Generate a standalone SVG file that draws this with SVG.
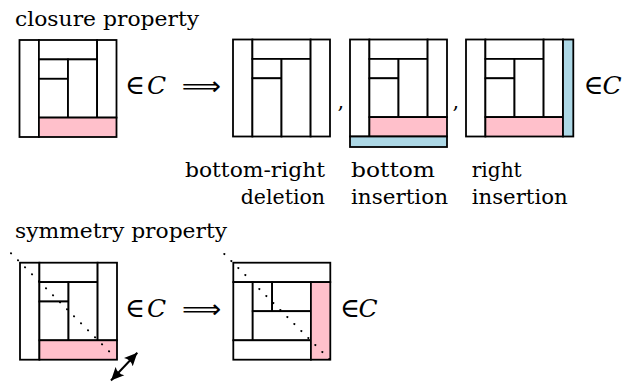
<svg xmlns="http://www.w3.org/2000/svg" width="625" height="383" viewBox="0 0 625 383">
<style>
.c{fill:#fff;stroke:#000;stroke-width:1.8}
.p{fill:#ffc0cb;stroke:#000;stroke-width:1.8}
.b{fill:#add8e6;stroke:#000;stroke-width:1.8}
.t{font-family:"DejaVu Serif","Liberation Serif","Noto Serif","Times New Roman",Times,serif;font-size:21px;fill:#000}
.e{font-family:"DejaVu Serif","DejaVu Sans",serif;font-size:27px;fill:#000}
.m{font-family:"DejaVu Serif","DejaVu Sans",serif}
.cal{font-family:"DejaVu Serif","Liberation Serif",serif;font-style:italic;font-size:25px}
.ar{font-family:"DejaVu Sans",sans-serif;font-size:26px;fill:#000}
.dot{fill:none;stroke:#000;stroke-width:2;stroke-linecap:round;stroke-dasharray:0.1 9.8}
.dbl{fill:none;stroke:#000;stroke-width:2}
</style>
<defs>
<marker id="ah" markerUnits="userSpaceOnUse" markerWidth="15" markerHeight="13" refX="13" refY="6.5" orient="auto-start-reverse">
<path d="M0,0.5 L13,6.5 L0,12.5 Q3.8,6.5 0,0.5 z" fill="#000"/>
</marker>
</defs>

<text class="t" x="15" y="26" textLength="184" lengthAdjust="spacingAndGlyphs">closure property</text>
<text class="t" x="15" y="238" textLength="212" lengthAdjust="spacingAndGlyphs">symmetry property</text>

<g id="sq1">
<rect class="c" x="19.5" y="40" width="19.4" height="97"/>
<rect class="c" x="38.9" y="40" width="58.2" height="19.4"/>
<rect class="c" x="38.9" y="59.4" width="29.1" height="19.4"/>
<rect class="c" x="38.9" y="78.8" width="29.1" height="38.8"/>
<rect class="c" x="68" y="59.4" width="29.1" height="58.2"/>
<rect class="c" x="97.1" y="40" width="19.4" height="77.6"/>
<rect class="p" x="38.9" y="117.6" width="77.6" height="19.4"/>
</g>

<g id="sq2">
<rect class="c" x="233" y="39.5" width="19.4" height="97"/>
<rect class="c" x="252.4" y="39.5" width="58.2" height="19.4"/>
<rect class="c" x="252.4" y="58.9" width="29.1" height="19.4"/>
<rect class="c" x="252.4" y="78.3" width="29.1" height="58.2"/>
<rect class="c" x="281.5" y="58.9" width="29.1" height="77.6"/>
<rect class="c" x="310.6" y="39.5" width="19.4" height="97"/>
</g>

<g id="sq3">
<rect class="c" x="350" y="39.5" width="19.4" height="97"/>
<rect class="c" x="369.4" y="39.5" width="58.2" height="19.4"/>
<rect class="c" x="369.4" y="58.9" width="29.1" height="19.4"/>
<rect class="c" x="369.4" y="78.3" width="29.1" height="38.8"/>
<rect class="c" x="398.5" y="58.9" width="29.1" height="58.2"/>
<rect class="c" x="427.6" y="39.5" width="19.4" height="77.6"/>
<rect class="p" x="369.4" y="117.1" width="77.6" height="19.4"/>
<rect class="b" x="350" y="136.5" width="97" height="10.5"/>
</g>

<g id="sq4">
<rect class="c" x="466" y="39.5" width="19.4" height="97"/>
<rect class="c" x="485.4" y="39.5" width="58.2" height="19.4"/>
<rect class="c" x="485.4" y="58.9" width="29.1" height="19.4"/>
<rect class="c" x="485.4" y="78.3" width="29.1" height="38.8"/>
<rect class="c" x="514.5" y="58.9" width="29.1" height="58.2"/>
<rect class="c" x="543.6" y="39.5" width="19.4" height="77.6"/>
<rect class="p" x="485.4" y="117.1" width="77.6" height="19.4"/>
<rect class="b" x="563" y="39.5" width="10.3" height="97"/>
</g>

<g id="sq5">
<rect class="c" x="20" y="262.7" width="19.4" height="97"/>
<rect class="c" x="39.4" y="262.7" width="58.2" height="19.4"/>
<rect class="c" x="39.4" y="282.1" width="29.1" height="19.4"/>
<rect class="c" x="39.4" y="301.5" width="29.1" height="38.8"/>
<rect class="c" x="68.5" y="282.1" width="29.1" height="58.2"/>
<rect class="c" x="97.6" y="262.7" width="19.4" height="77.6"/>
<rect class="p" x="39.4" y="340.3" width="77.6" height="19.4"/>
</g>

<g id="sq6">
<rect class="c" x="233.3" y="262.7" width="97" height="19.4"/>
<rect class="c" x="233.3" y="282.1" width="19.4" height="58.2"/>
<rect class="c" x="252.7" y="282.1" width="19.4" height="29.1"/>
<rect class="c" x="272.1" y="282.1" width="38.8" height="29.1"/>
<rect class="c" x="252.7" y="311.2" width="58.2" height="29.1"/>
<rect class="c" x="233.3" y="340.3" width="77.6" height="19.4"/>
<rect class="p" x="310.9" y="282.1" width="19.4" height="77.6"/>
</g>

<g id="connectors">
<path class="dot" d="M11,253.3 L115,357.3"/>
<path class="dot" d="M224.3,254 L334,363.7"/>
<path class="dbl" d="M111,380.5 L137.3,352.8" marker-start="url(#ah)" marker-end="url(#ah)"/>
</g>

<g id="labels">
<text class="e" y="94"><tspan class="m" x="125">∈</tspan><tspan class="cal" x="147">C</tspan></text>
<text class="ar" x="181.7" y="94.5" textLength="39.3" lengthAdjust="spacingAndGlyphs">⟹</text>
<text class="t" x="337.5" y="107.5">,</text>
<text class="t" x="452.5" y="107.5">,</text>
<text class="e" y="94"><tspan class="m" x="583.5">∈</tspan><tspan class="cal" x="602.5">C</tspan></text>

<text class="t" x="185" y="176.7" textLength="140" lengthAdjust="spacingAndGlyphs">bottom-right</text>
<text class="t" x="240.7" y="204" textLength="84.3" lengthAdjust="spacingAndGlyphs">deletion</text>
<text class="t" x="351" y="176.7" textLength="84" lengthAdjust="spacingAndGlyphs">bottom</text>
<text class="t" x="351" y="204" textLength="97" lengthAdjust="spacingAndGlyphs">insertion</text>
<text class="t" x="471.7" y="176.7" textLength="50" lengthAdjust="spacingAndGlyphs">right</text>
<text class="t" x="471.7" y="204" textLength="96" lengthAdjust="spacingAndGlyphs">insertion</text>

<text class="e" y="317"><tspan class="m" x="125">∈</tspan><tspan class="cal" x="147">C</tspan></text>
<text class="ar" x="182" y="317.5" textLength="39.3" lengthAdjust="spacingAndGlyphs">⟹</text>
<text class="e" y="317"><tspan class="m" x="340">∈</tspan><tspan class="cal" x="358.5">C</tspan></text>
</g>
</svg>
